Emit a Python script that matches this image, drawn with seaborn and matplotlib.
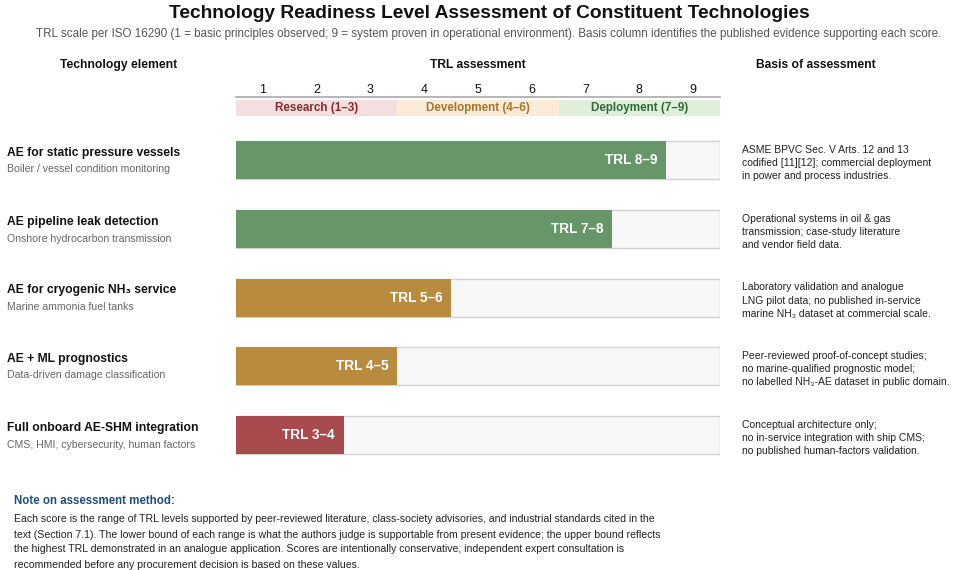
import matplotlib
matplotlib.use("Agg")
from matplotlib import pyplot as plt
import seaborn as sns
import pandas as pd

# ---------------- data ----------------
names = ["AE for static pressure vessels", "AE pipeline leak detection",
         "AE for cryogenic NH\u2083 service", "AE + ML prognostics",
         "Full onboard AE-SHM integration"]
subtitles = ["Boiler / vessel condition monitoring", "Onshore hydrocarbon transmission",
             "Marine ammonia fuel tanks", "Data-driven damage classification",
             "CMS, HMI, cybersecurity, human factors"]
trl_labels = ["TRL 8\u20139", "TRL 7\u20138", "TRL 5\u20136", "TRL 4\u20135", "TRL 3\u20134"]
bar_end = [8.5, 7.5, 4.5, 3.5, 2.5]
bar_colors = ["#679669", "#b98b3f", "#a84b4e"]
row_color_idx = [0, 0, 1, 1, 2]
basis = [
    "ASME BPVC Sec. V Arts. 12 and 13\ncodified [11][12]; commercial deployment\nin power and process industries.",
    "Operational systems in oil & gas\ntransmission; case-study literature\nand vendor field data.",
    "Laboratory validation and analogue\nLNG pilot data; no published in-service\nmarine NH\u2083 dataset at commercial scale.",
    "Peer-reviewed proof-of-concept studies;\nno marine-qualified prognostic model;\nno labelled NH\u2083-AE dataset in public domain.",
    "Conceptual architecture only;\nno in-service integration with ship CMS;\nno published human-factors validation.",
]
trl_levels = [1, 2, 3, 4, 5, 6, 7, 8, 9]
bands = ["Research (1\u20133)", "Development (4\u20136)", "Deployment (7\u20139)"]
band_start = [1, 4, 7]
band_end = [3, 6, 9]
band_fill = ["#f3dfdf", "#f9ebd8", "#e0eedc"]
band_text = ["#8b2a2a", "#a8742a", "#2f6b36"]

note_title = "Note on assessment method:"
note_lines = [
    "Each score is the range of TRL levels supported by peer-reviewed literature, class-society advisories, and industrial standards cited in the",
    "text (Section 7.1). The lower bound of each range is what the authors judge is supportable from present evidence; the upper bound reflects",
    "the highest TRL demonstrated in an analogue application. Scores are intentionally conservative; independent expert consultation is",
    "recommended before any procurement decision is based on these values.",
]

sns.set_theme(style="white")
plt.rcParams["font.family"] = ["Liberation Sans", "DejaVu Sans"]

W, H = 958, 570
fig = plt.figure(figsize=(W / 100, H / 100), dpi=100)


def fy(px):
    return 1 - px / H


def fx(px):
    return px / W


# titles
fig.text(fx(489), fy(13), "Technology Readiness Level Assessment of Constituent Technologies",
         ha="center", va="center", fontsize=13.8, fontweight="bold", color="#111111")
fig.text(fx(489), fy(34), "TRL scale per ISO 16290 (1 = basic principles observed; 9 = system proven in "
         "operational environment). Basis column identifies the published evidence supporting each score.",
         ha="center", va="center", fontsize=8.35, color="#555555")

# column headers
for x, t in [(119, "Technology element"), (478, "TRL assessment"), (816, "Basis of assessment")]:
    fig.text(fx(x), fy(65), t, ha="center", va="center", fontsize=8.7, fontweight="bold", color="#111111")

# band axes (TRL numbers + phase bands)
ax_top = fig.add_axes([fx(236), fy(116), fx(484), 19.5 / H])
for s, e, c, lab, tc in zip(band_start, band_end, band_fill, bands, band_text):
    ax_top.barh(0.4, e - s + 1, left=s - 0.5, height=0.8, color=c, edgecolor="none")
    ax_top.text((s + e) / 2, 0.4, lab, ha="center", va="center", fontsize=8.4,
                fontweight="bold", color=tc)
ax_top.set_xlim(0.5, 9.5)
ax_top.set_ylim(0, 1)
ax_top.xaxis.tick_top()
ax_top.set_xticks(trl_levels)
ax_top.set_xticklabels([str(v) for v in trl_levels], fontsize=9, color="#111111")
ax_top.tick_params(axis="x", length=0, pad=0.5)
ax_top.set_yticks([])
for side in ["left", "right", "bottom"]:
    ax_top.spines[side].set_visible(False)
ax_top.spines["top"].set_color("#aaaaaa")
ax_top.spines["top"].set_linewidth(1.2)

# main bar axes
ax = fig.add_axes([fx(236), fy(469.5), fx(484), 343.75 / H])
df = pd.DataFrame({"name": names, "end": bar_end,
                   "color": [bar_colors[i] for i in row_color_idx]})
ax.barh(range(len(names)), [9.0] * len(names), left=0.5, height=0.55,
        color="#f8f8f8", edgecolor="#d2d2d2", linewidth=1)
sns.barplot(data=df, x="end", y="name", hue="name", palette=list(df["color"]),
            orient="h", width=0.55, legend=False, ax=ax, linewidth=0, saturation=1)
for i, (e, lab) in enumerate(zip(bar_end, trl_labels)):
    ax.text(e - 0.16, i, lab, ha="right", va="center", fontsize=9.8,
            fontweight="bold", color="white")
ax.set_xlim(0.5, 9.5)
ax.set_ylim(4.5, -0.5)
ax.set_axis_off()

# row text
row_centers = [160, 229, 297.5, 366, 435]
for yc, n, s, b in zip(row_centers, names, subtitles, basis):
    fig.text(fx(7), fy(yc - 7), n, ha="left", va="center", fontsize=8.75,
             fontweight="bold", color="#111111")
    fig.text(fx(7), fy(yc + 9.5), s, ha="left", va="center", fontsize=7.6, color="#666666")
    fig.text(fx(742), fy(yc + 3), b, ha="left", va="center", fontsize=7.5,
             color="#222222", linespacing=1.38)

# note
fig.text(fx(14), fy(501), note_title, ha="left", va="center", fontsize=8.3,
         fontweight="bold", color="#1f4e79")
for k, line in enumerate(note_lines):
    fig.text(fx(14), fy(519.5 + 15 * k), line, ha="left", va="center", fontsize=7.6,
             color="#222222")

fig.savefig("out.png", dpi=100)
